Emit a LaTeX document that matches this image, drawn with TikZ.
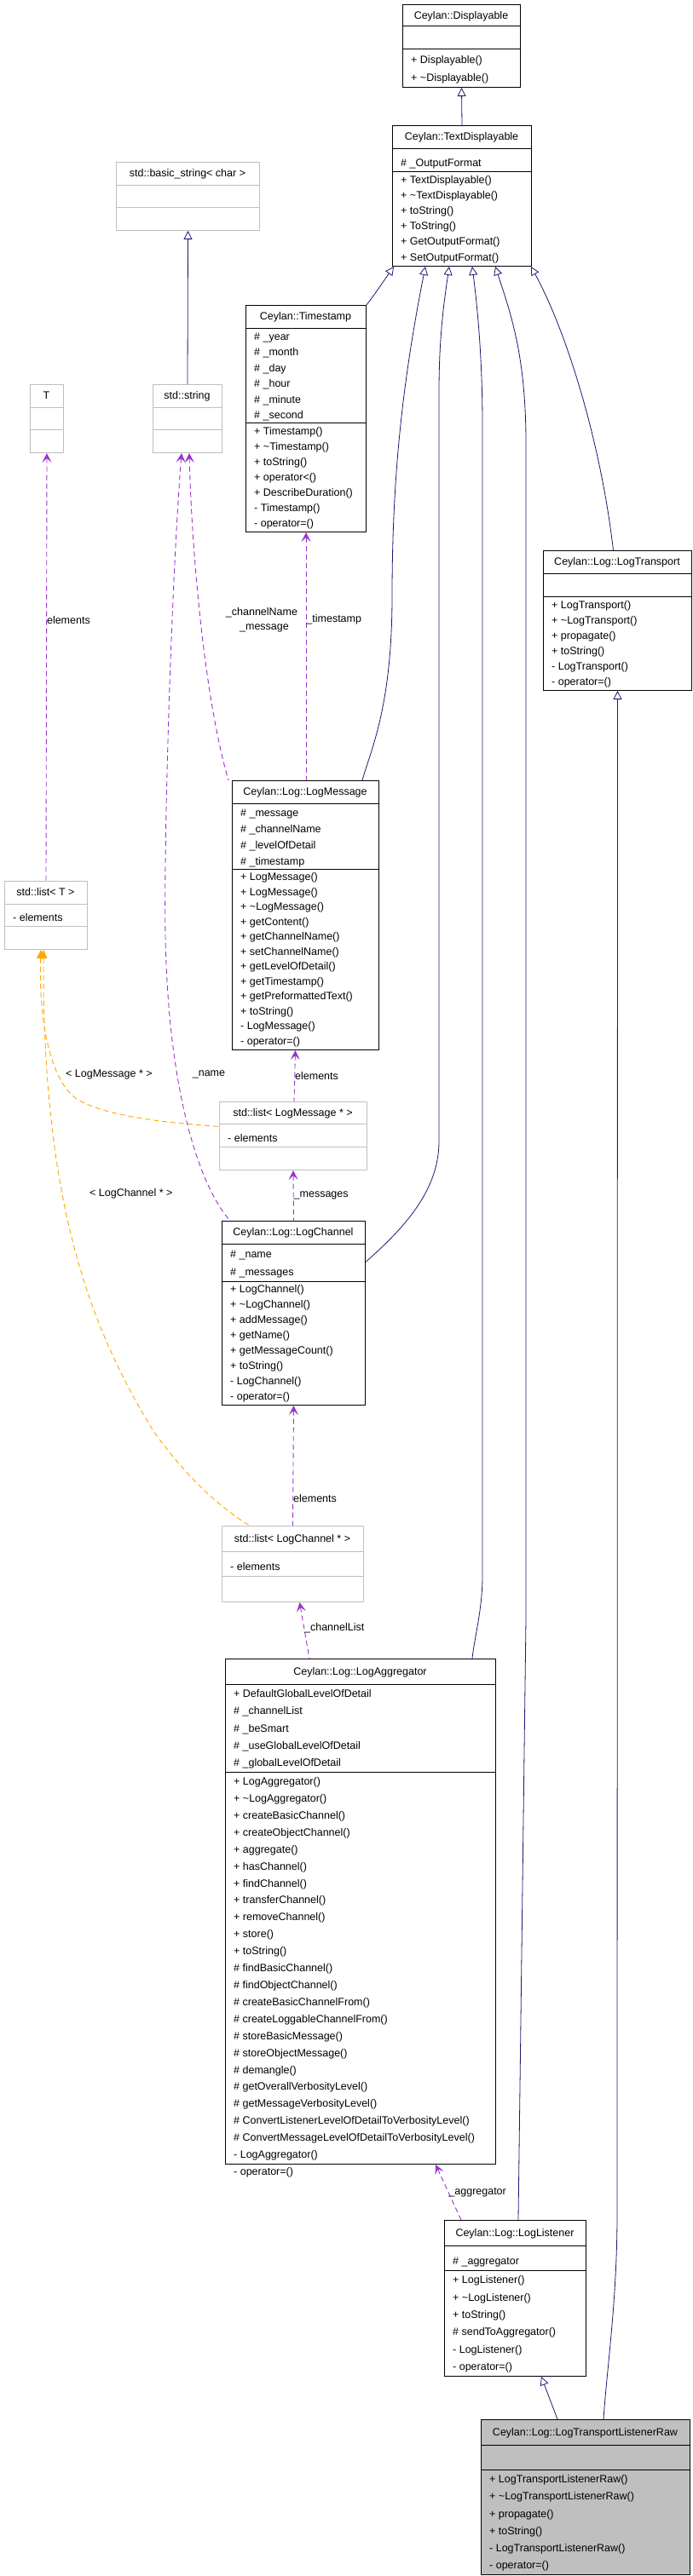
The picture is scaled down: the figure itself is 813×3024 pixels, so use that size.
\documentclass[tikz,border=0pt]{standalone}
\usepackage{fontspec}
\setmainfont{Liberation Sans}
\usetikzlibrary{arrows.meta}
\definecolor{navy}{HTML}{191970}
\definecolor{purp}{HTML}{9A32CD}
\definecolor{orng}{HTML}{FFA500}
\definecolor{extgray}{HTML}{BFBFBF}
\tikzset{
  cls/.style={draw=black, line width=1pt, inner sep=0pt},
  cls sep/.style={draw=black, line width=1pt},
  ext/.style={draw=extgray, line width=1pt, inner sep=0pt},
  ext sep/.style={draw=extgray, line width=1pt},
  cur/.style={draw=black, fill=extgray, line width=1pt, inner sep=0pt},
  cur sep/.style={draw=black, line width=1pt},
  label text/.style={inner sep=0pt, font=\fontsize{12.5}{14}\selectfont},
  inherit/.style={draw=navy, line width=0.8pt, {Triangle[open,length=10pt,width=10pt]}-},
  use/.style={draw=purp, line width=0.9pt, dash pattern=on 6pt off 4pt,
    {Stealth[length=11pt,width=11pt,inset=5pt]}-},
  templ/.style={draw=orng, line width=0.9pt, dash pattern=on 6pt off 4pt,
    {Triangle[length=10pt,width=9pt]}-},
}
% class box: name, style, x1, y1, x2, y2, first rule, second rule, title
\newcommand\classbox[9]{%
  \node[#2, anchor=north west, minimum width={(#5-#3)*1pt},
    minimum height={(#6-#4)*1pt}] (#1) at (#3,#4) {};
  \draw[#2 sep] (#3,#7) -- (#5,#7) (#3,#8) -- (#5,#8);
  \node[label text, anchor=base] (#1-title) at ({(#3+#5)/2},{#4+(#7-#4)*0.66}) {#9};
}
% member lines: name, x, top, bottom, count, lines
\newcommand\members[6]{%
  \foreach [count=\i] \t in {#6}
    \node[label text, anchor=base west] (#1-\i) at (#2+10,{#3+(\i-0.22)*(#4-#3)/#5}) {\t};
}
\begin{document}
\begin{tikzpicture}[x=1pt,y=-1pt]
  \useasboundingbox (0,0) rectangle (813,3024);
  % classes
  \classbox{disp}{cls}{472}{5}{610}{102}{31}{58}{Ceylan::Displayable}
  \members{dispm}{472}{58}{100}{2}{+ Displayable(), + \textasciitilde Displayable()}
  \classbox{tdisp}{cls}{460}{147}{623}{312}{174}{201}{Ceylan::TextDisplayable}
  \members{tdispa}{460}{174}{201}{1}{\# \_OutputFormat}
  \members{tdispm}{460}{201}{310}{6}{+ TextDisplayable(), + \textasciitilde TextDisplayable(),
    + toString(), + ToString(), + GetOutputFormat(), + SetOutputFormat()}
  \classbox{bstr}{ext}{136}{190}{304}{270}{217}{243}{std::basic\_string< char >}
  \classbox{tT}{ext}{35}{451}{74}{531}{478}{504}{T}
  \classbox{sstr}{ext}{179}{451}{260}{531}{478}{504}{std::string}
  \classbox{tstamp}{cls}{288}{358}{429}{624}{385}{496}{Ceylan::Timestamp}
  \members{tstampa}{288}{385}{496}{6}{\# \_year, \# \_month, \# \_day, \# \_hour,
    \# \_minute, \# \_second}
  \members{tstampm}{288}{496}{622}{7}{+ Timestamp(), + \textasciitilde Timestamp(),
    + toString(), + operator<(), + DescribeDuration(), - Timestamp(), - operator=()}
  \classbox{ltr}{cls}{637}{646}{811}{810}{673}{700}{Ceylan::Log::LogTransport}
  \members{ltrm}{637}{700}{808}{6}{+ LogTransport(), + \textasciitilde LogTransport(),
    + propagate(), + toString(), - LogTransport(), - operator=()}
  \classbox{lmsg}{cls}{272}{916}{444}{1232}{943}{1020}{Ceylan::Log::LogMessage}
  \members{lmsga}{272}{943}{1020}{4}{\# \_message, \# \_channelName,
    \# \_levelOfDetail, \# \_timestamp}
  \members{lmsgm}{272}{1020}{1230}{12}{+ LogMessage(), + LogMessage(),
    + \textasciitilde LogMessage(), + getContent(), + getChannelName(),
    + setChannelName(), + getLevelOfDetail(), + getTimestamp(),
    + getPreformattedText(), + toString(), - LogMessage(), - operator=()}
  \classbox{lstT}{ext}{5}{1034}{102}{1114}{1061}{1087}{std::list< T >}
  \members{lstTa}{5}{1061}{1087}{1}{- elements}
  \classbox{lstM}{ext}{257}{1293}{430}{1373}{1319}{1346}{std::list< LogMessage * >}
  \members{lstMa}{257}{1319}{1346}{1}{- elements}
  \classbox{lchan}{cls}{260}{1433}{428}{1649}{1460}{1504}{Ceylan::Log::LogChannel}
  \members{lchana}{260}{1460}{1502}{2}{\# \_name, \# \_messages}
  \members{lchanm}{260}{1504}{1647}{8}{+ LogChannel(), + \textasciitilde LogChannel(),
    + addMessage(), + getName(), + getMessageCount(), + toString(),
    - LogChannel(), - operator=()}
  \classbox{lstC}{ext}{260}{1791}{426}{1880}{1821}{1850}{std::list< LogChannel * >}
  \members{lstCa}{260}{1821}{1850}{1}{- elements}
  \classbox{lagg}{cls}{264}{1947}{581}{2540}{1977}{2080}{Ceylan::Log::LogAggregator}
  \members{lagga}{264}{1977}{2078}{5}{+ DefaultGlobalLevelOfDetail, \# \_channelList,
    \# \_beSmart, \# \_useGlobalLevelOfDetail, \# \_globalLevelOfDetail}
  \members{laggm}{264}{2080}{2538}{23}{+ LogAggregator(), + \textasciitilde LogAggregator(),
    + createBasicChannel(), + createObjectChannel(), + aggregate(), + hasChannel(),
    + findChannel(), + transferChannel(), + removeChannel(), + store(), + toString(),
    \# findBasicChannel(), \# findObjectChannel(), \# createBasicChannelFrom(),
    \# createLoggableChannelFrom(), \# storeBasicMessage(), \# storeObjectMessage(),
    \# demangle(), \# getOverallVerbosityLevel(), \# getMessageVerbosityLevel(),
    \# ConvertListenerLevelOfDetailToVerbosityLevel(),
    \# ConvertMessageLevelOfDetailToVerbosityLevel(), - LogAggregator(), - operator=()}
  \classbox{lis}{cls}{521}{2606}{687}{2789}{2636}{2665}{Ceylan::Log::LogListener}
  \members{lisa}{521}{2636}{2665}{1}{\# \_aggregator}
  \members{lism}{521}{2665}{2787}{6}{+ LogListener(), + \textasciitilde LogListener(),
    + toString(), \# sendToAggregator(), - LogListener(), - operator=()}
  \classbox{ltlr}{cur}{564}{2840}{809}{3022}{2870}{2899}{Ceylan::Log::LogTransportListenerRaw}
  \members{ltlrm}{564}{2899}{3020}{6}{+ LogTransportListenerRaw(),
    + \textasciitilde LogTransportListenerRaw(), + propagate(), + toString(),
    - LogTransportListenerRaw(), - operator=()}
  % inheritance
  \draw[inherit] (disp.south) -- (tdisp.north);
  \draw[inherit] (bstr.south) -- (sstr.north);
  \draw[inherit] ([xshift=2]tdisp.south west) .. controls (450,330) and (440,345) .. (tstamp.north east);
  \draw[inherit] ([xshift=39]tdisp.south west) .. controls (472,450) and (460,560) .. (460,700)
    .. controls (460,830) and (435,880) .. ([xshift=-20]lmsg.north east);
  \draw[inherit] ([xshift=67]tdisp.south west) .. controls (520,360) and (515,400) .. (515,460)
    -- (515,1340) .. controls (515,1400) and (470,1445) .. ([yshift=60]lchan.east);
  \draw[inherit] ([xshift=94]tdisp.south west) .. controls (560,360) and (566,420) .. (566,500)
    -- (566,1850) .. controls (566,1890) and (556,1925) .. ([xshift=-28]lagg.north east);
  \draw[inherit] ([xshift=121]tdisp.south west) .. controls (600,370) and (617,420) .. (617,520)
    -- (617,1900) -- ([xshift=87]lis.north west);
  \draw[inherit] ([xshift=163]tdisp.south west) .. controls (665,390) and (705,520) .. ([xshift=-5]ltr.north);
  \draw[inherit] (ltr.south) -- (724,2600) .. controls (724,2700) and (712,2780) .. ([xshift=144]ltlr.north west);
  \draw[inherit] ([xshift=114]lis.south west) -- ([xshift=90]ltlr.north west);
  % usage
  \draw[use] (tT.south) -- (lstT.north) node[label text, pos=0.39, right] (elT) {elements};
  \draw[use] ([xshift=-7]sstr.south) .. controls (200,700) and (192,1000) .. (194,1100)
    .. controls (198,1300) and (240,1400) .. ([xshift=10]lchan.north west);
  \draw[use] ([xshift=2]sstr.south) .. controls (225,650) and (240,820) .. ([xshift=-4]lmsg.north west);
  \node[label text] (cname) at (307,719) {\_channelName};
  \node[label text] (mname) at (310,737) {\_message};
  \node[label text] (nname) at (245,1261) {\_name};
  \draw[use] (tstamp.south) -- (tstamp.south |- lmsg.north)
    node[label text, pos=0.35, right] (tsl) {\_timestamp};
  \draw[use] ([xshift=-12]lmsg.south) -- ([xshift=1]lstM.north)
    node[label text, midway, right] (elM) {elements};
  \draw[use] (lstM.south) -- (lchan.north) node[label text, midway, right] (msgl) {\_messages};
  \draw[use] (lchan.south) -- (lstC.north) node[label text, pos=0.77, right] (elC) {elements};
  \draw[use] ([xshift=8]lstC.south) -- ([xshift=-60]lagg.north)
    node[label text, pos=0.45, right] (chl) {\_channelList};
  \draw[use] ([xshift=247]lagg.south west) -- ([xshift=20]lis.north west)
    node[label text, midway, right] (aggl) {\_aggregator};
  % template
  \draw[templ] ([xshift=-6]lstT.south) .. controls (45,1200) and (60,1270) .. (90,1290)
    .. controls (130,1315) and (230,1320) .. ([yshift=11]lstM.west);
  \draw[templ] ([xshift=-3]lstT.south) .. controls (50,1400) and (100,1550) .. (180,1680)
    .. controls (230,1750) and (275,1780) .. ([xshift=33]lstC.north west);
  \node[label text, anchor=west] (tlM) at (77,1261) {< LogMessage * >};
  \node[label text, anchor=west] (tlC) at (105,1401) {< LogChannel * >};
\end{tikzpicture}
\end{document}
